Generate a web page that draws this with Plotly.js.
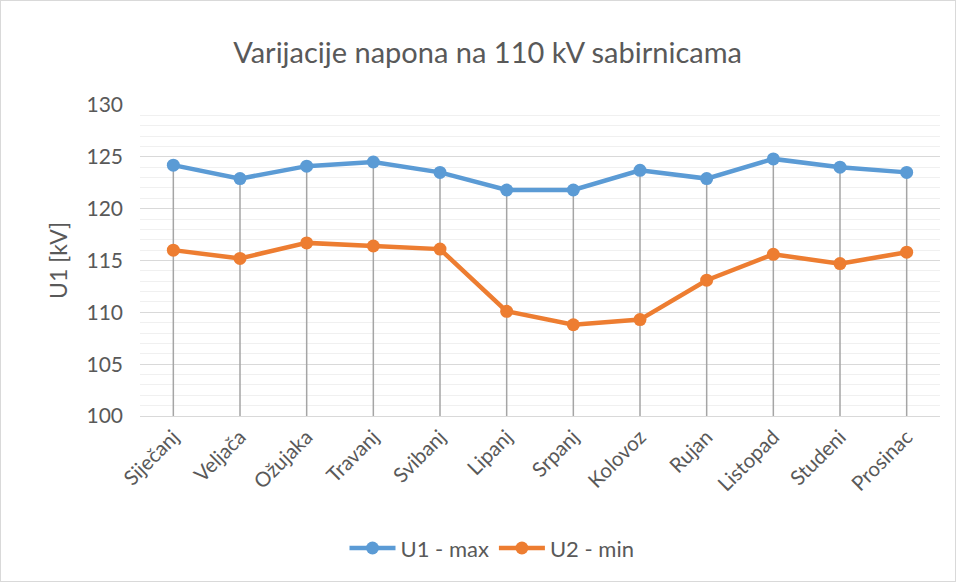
<!DOCTYPE html>
<html>
<head>
<meta charset="utf-8">
<script src="https://cdn.plot.ly/plotly-3.0.1.min.js"></script>
<style>
html,body{margin:0;padding:0;background:#fff;}
#chart{width:954px;height:580px;border:1px solid #d9d9d9;}
</style>
</head>
<body>
<div id="chart"></div>
<script>
const months = ["Siječanj","Veljača","Ožujaka","Travanj","Svibanj","Lipanj","Srpanj","Kolovoz","Rujan","Listopad","Studeni","Prosinac"];
const u1Max = [124.2,122.9,124.1,124.5,123.5,121.8,121.8,123.7,122.9,124.8,124.0,123.5];
const u2Min = [116.0,115.2,116.7,116.4,116.1,110.1,108.8,109.3,113.1,115.6,114.7,115.8];
const yMin = 100, yMax = 130;

const font = "Lato, 'Open Sans', sans-serif";
const grey = "#595959";

const traces = [
  {
    x: months, y: u1Max, name: "U1 - max", type: "scatter", mode: "lines+markers",
    line: {color: "#5b9bd5", width: 4.5},
    marker: {color: "#5b9bd5", size: 13},
    error_y: {type: "data", symmetric: false, array: u1Max.map(() => 0),
              arrayminus: u1Max.map(v => v - yMin), color: "#a5a5a5", thickness: 1.5, width: 0}
  },
  {
    x: months, y: u2Min, name: "U2 - min", type: "scatter", mode: "lines+markers",
    line: {color: "#ed7d31", width: 4.5},
    marker: {color: "#ed7d31", size: 13}
  }
];

const layout = {
  width: 954, height: 580,
  margin: {l: 139, r: 15, t: 104, b: 165, autoexpand: false},
  paper_bgcolor: "#fff", plot_bgcolor: "#fff",
  font: {family: font, color: grey, size: 21},
  title: {text: "Varijacije napona na 110 kV sabirnicama", font: {size: 29, color: grey, family: font},
          x: 0.51, xanchor: "center", y: 0.91, yanchor: "middle"},
  xaxis: {
    type: "category", range: [-0.5, 11.5], tickangle: -45,
    showgrid: false, zeroline: false, showline: true, linecolor: "#d9d9d9", linewidth: 1,
    ticks: "", tickfont: {size: 20.5, color: grey}, fixedrange: true
  },
  yaxis: {
    range: [yMin, yMax], dtick: 5, tick0: 100, showline: false, zeroline: false,
    gridcolor: "#d9d9d9", gridwidth: 1,
    minor: {dtick: 1, showgrid: true, gridcolor: "#f0f0f0", gridwidth: 1},
    ticks: "", ticklabelstandoff: 16, tickfont: {size: 21, color: grey},
    title: {text: "U1 [kV]", font: {size: 23, color: grey}, standoff: 12}
  },
  legend: {orientation: "h", x: 0.44, xanchor: "center", y: -0.425, yanchor: "middle",
           font: {size: 22, color: grey}, itemwidth: 46},
  showlegend: true
};

Plotly.newPlot("chart", traces, layout, {displayModeBar: false, staticPlot: true});
</script>
</body>
</html>
